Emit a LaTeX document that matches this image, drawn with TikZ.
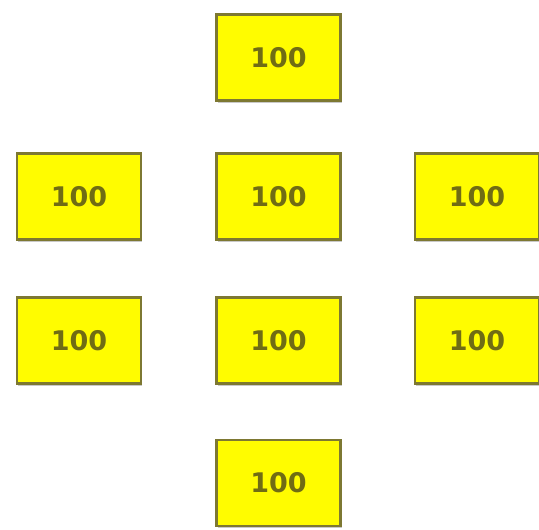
\documentclass[tikz,border=0pt]{standalone}
\usepackage{fontspec}
\newfontfamily\boxfont{DejaVu Sans}
\usetikzlibrary{shadows}
\definecolor{boxfill}{RGB}{255,252,0}
\definecolor{boxline}{RGB}{125,120,50}
\definecolor{boxtext}{RGB}{112,108,20}
\tikzset{
  valbox/.style={draw=boxline, line width=2.2pt, fill=boxfill,
    minimum width=124pt, minimum height=86pt, inner sep=0pt,
    text=boxtext, font=\boxfont\bfseries\fontsize{27}{30}\selectfont,
    drop shadow={shadow xshift=1pt, shadow yshift=-2.5pt, opacity=0.35, fill=black!60}}
}
\begin{document}
\begin{tikzpicture}[x=1pt,y=1pt]
\useasboundingbox[fill=white] (0,0) rectangle (539,530);
\node[valbox] (n1) at (278.5,472.5) {100};
\node[valbox] (n2) at (79,333.5) {100};
\node[valbox] (n3) at (278.5,333.5) {100};
\node[valbox] (n4) at (477,333.5) {100};
\node[valbox] (n5) at (79,189.5) {100};
\node[valbox] (n6) at (278.5,189.5) {100};
\node[valbox] (n7) at (477,189.5) {100};
\node[valbox] (n8) at (278.5,47) {100};
\end{tikzpicture}
\end{document}
